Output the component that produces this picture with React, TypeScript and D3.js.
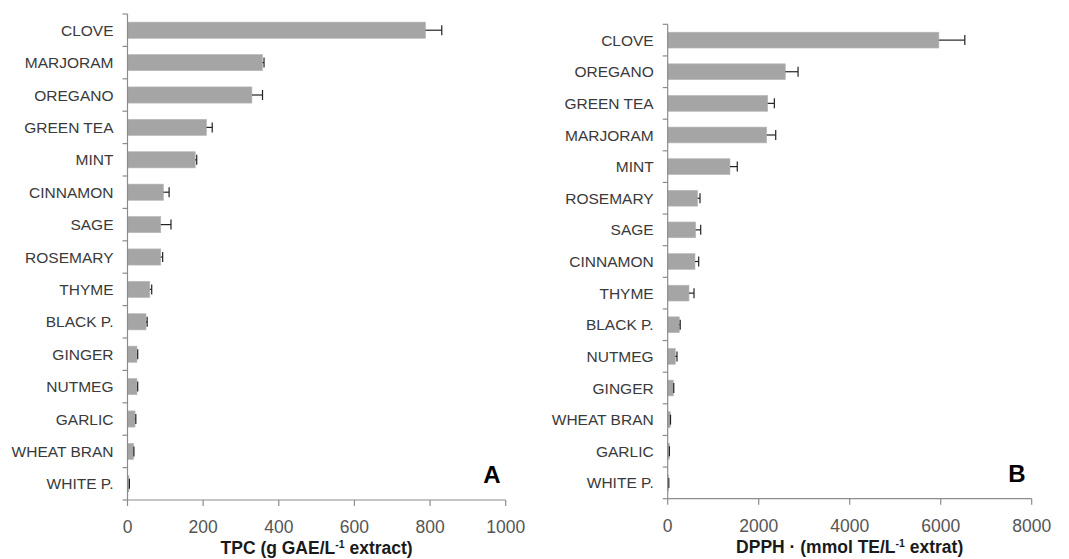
import React from "react";
import * as d3 from "d3";

// Panel A: total phenolic content
const tpcCategories = ["CLOVE", "MARJORAM", "OREGANO", "GREEN TEA", "MINT", "CINNAMON", "SAGE", "ROSEMARY", "THYME", "BLACK P.", "GINGER", "NUTMEG", "GARLIC", "WHEAT BRAN", "WHITE P."];
const tpcValues = [788, 357, 329, 209, 179, 95, 88, 88, 59, 49, 25, 25, 20, 16, 4];
const tpcErrors = [43, 4, 28, 15, 4, 15, 27, 5, 5, 3, 2, 2, 2, 1, 1];
const tpcTicks = [0, 200, 400, 600, 800, 1000];

// Panel B: DPPH radical scavenging
const dpphCategories = ["CLOVE", "OREGANO", "GREEN TEA", "MARJORAM", "MINT", "ROSEMARY", "SAGE", "CINNAMON", "THYME", "BLACK P.", "NUTMEG", "GINGER", "WHEAT BRAN", "GARLIC", "WHITE P."];
const dpphValues = [5960, 2585, 2198, 2176, 1369, 659, 615, 600, 468, 255, 167, 123, 57, 35, 22];
const dpphErrors = [570, 280, 146, 198, 160, 51, 110, 81, 110, 20, 37, 10, 5, 3, 2];
const dpphTicks = [0, 2000, 4000, 6000, 8000];

const FONT = "'Liberation Sans', Arial, sans-serif";
const AXIS = "#8c8c8c";
const TEXT = "#3a3a3a";

type PanelProps = {
  categories: string[];
  values: number[];
  errors: number[];
  ticks: number[];
  x0: number;
  x1: number;
  y0: number;
  y1: number;
  titleMain: string;
  titleTail: string;
  letter: string;
  letterX: number;
};

function Panel(p: PanelProps) {
  const x = d3.scaleLinear().domain([p.ticks[0], p.ticks[p.ticks.length - 1]]).range([p.x0, p.x1]);
  const y = d3.scaleBand<string>().domain(p.categories).range([p.y0, p.y1]).paddingInner(0.5).paddingOuter(0.25);
  const bh = y.bandwidth();
  const boundaries = d3.range(p.categories.length + 1).map((i) => p.y0 + (i * (p.y1 - p.y0)) / p.categories.length);
  const cx = (p.x0 + p.x1) / 2;
  return (
    <g>
      {p.categories.map((c, i) => {
        const yc = (y(c) as number) + bh / 2;
        const xv = x(p.values[i]);
        const xe = x(p.values[i] + p.errors[i]);
        return (
          <g key={c}>
            <rect x={x(0)} y={yc - bh / 2} width={xv - x(0)} height={bh} fill="#a5a5a5" stroke="#b8b8b8" strokeWidth={0.6} />
            <line x1={xv} x2={xe} y1={yc} y2={yc} stroke="#222" strokeWidth={1.2} />
            <line x1={xe} x2={xe} y1={yc - 5} y2={yc + 5} stroke="#222" strokeWidth={1.2} />
            <text x={p.x0 - 14} y={yc} dy="0.36em" textAnchor="end" fontFamily={FONT} fontSize={15.5} fill={TEXT}>
              {c}
            </text>
          </g>
        );
      })}
      {/* category axis */}
      <line x1={p.x0} x2={p.x0} y1={p.y0} y2={p.y1} stroke={AXIS} strokeWidth={1.2} />
      {boundaries.map((b, i) => (
        <line key={"yt" + i} x1={p.x0 - 5} x2={p.x0} y1={b} y2={b} stroke={AXIS} strokeWidth={1.2} />
      ))}
      {/* value axis */}
      <line x1={p.x0} x2={p.x1} y1={p.y1} y2={p.y1} stroke={AXIS} strokeWidth={1.2} />
      {p.ticks.map((t) => (
        <g key={"xt" + t}>
          <line x1={x(t)} x2={x(t)} y1={p.y1} y2={p.y1 + 6} stroke={AXIS} strokeWidth={1.2} />
          <text x={x(t)} y={p.y1 + 27} dy="0.36em" textAnchor="middle" fontFamily={FONT} fontSize={17.5} fill="#555">
            {t}
          </text>
        </g>
      ))}
      <text x={cx} y={p.y1 + 54} textAnchor="middle" fontFamily={FONT} fontSize={17.5} fontWeight="bold" fill="#1a1a1a">
        {p.titleMain}
        <tspan baselineShift="super" fontSize={10.5}>-1</tspan>
        <tspan>{p.titleTail}</tspan>
      </text>
      <text x={p.letterX} y={p.y1 - 17} textAnchor="middle" fontFamily={FONT} fontSize={24} fontWeight="bold" fill="#000">
        {p.letter}
      </text>
    </g>
  );
}

export default function App() {
  return (
    <svg width={1069} height={559} style={{ position: "absolute", left: 0, top: 0, background: "#fff" }}>
      <rect x={0} y={0} width={1069} height={559} fill="#fff" />
      <Panel
        categories={tpcCategories}
        values={tpcValues}
        errors={tpcErrors}
        ticks={tpcTicks}
        x0={127.5}
        x1={505.7}
        y0={14}
        y1={500}
        titleMain="TPC (g GAE/L"
        titleTail=" extract)"
        letter="A"
        letterX={492}
      />
      <Panel
        categories={dpphCategories}
        values={dpphValues}
        errors={dpphErrors}
        ticks={dpphTicks}
        x0={667.7}
        x1={1031.7}
        y0={24.3}
        y1={498.7}
        titleMain="DPPH · (mmol TE/L"
        titleTail=" extrat)"
        letter="B"
        letterX={1017}
      />
    </svg>
  );
}
